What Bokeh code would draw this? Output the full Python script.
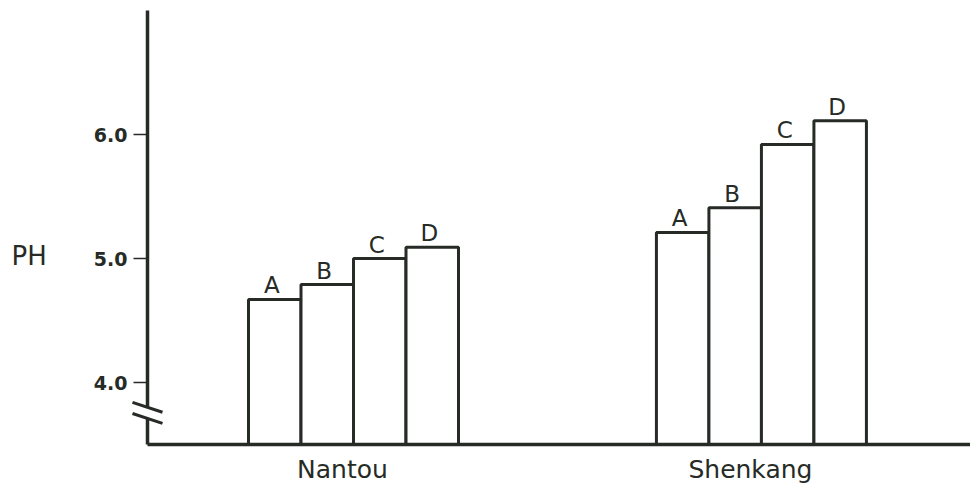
from bokeh.plotting import figure
from bokeh.models import Range1d, ColumnDataSource, FixedTicker, LinearAxis
from bokeh.core.properties import value
from bokeh.embed import file_html
from bokeh.resources import INLINE

# ---- data ----
sites = ["Nantou", "Shenkang"]
treatments = ["A", "B", "C", "D"]
ph_nantou = [4.67, 4.79, 5.00, 5.09]
ph_shenkang = [5.21, 5.41, 5.92, 6.11]
y_ticks = [4.0, 5.0, 6.0]
y_tick_labels = ["4.0", "5.0", "6.0"]
y_label = "PH"

# ---- layout constants (pixels / scale) ----
W, H = 970, 484
PX_X = 52.5            # pixels per bar slot
PX_Y = 124.0           # pixels per pH unit
GROUP_STEP = 7.77      # slots from one site group to the next
FIRST_BAR_PX = 274.25  # centre of the first bar
AXIS_PX = 147          # y axis position
BASE = 3.5             # axis baseline value (broken axis)
TOP = 7.0
BASE_PX = 444          # baseline from top of canvas

INK = "#262b26"
FONT = "DejaVu Sans"

x_start = -FIRST_BAR_PX / PX_X
x_end = x_start + W / PX_X
y_start = BASE - (H - BASE_PX) / PX_Y
y_end = BASE + BASE_PX / PX_Y
axis_x = x_start + AXIS_PX / PX_X

series = [ph_nantou, ph_shenkang]
bx, top, lab = [], [], []
for g, vals in enumerate(series):
    for i, v in enumerate(vals):
        bx.append(g * GROUP_STEP + i)
        top.append(v)
        lab.append(treatments[i])
src = ColumnDataSource(dict(x=bx, top=top, label=lab))
site_src = ColumnDataSource(dict(
    x=[g * GROUP_STEP + (len(treatments) - 1) / 2 for g in range(len(sites))],
    y=[BASE] * len(sites), text=sites))

p = figure(width=W, height=H, x_range=Range1d(x_start, x_end), y_range=Range1d(y_start, y_end),
           output_backend="svg", toolbar_location=None,
           x_axis_location=None, y_axis_location=None,
           min_border=0, min_border_left=0, min_border_right=0,
           min_border_top=0, min_border_bottom=0)
p.outline_line_color = None
p.grid.visible = False
p.background_fill_color = "white"
p.border_fill_color = "white"

p.vbar(x="x", top="top", bottom=BASE, width=1.0, source=src,
       fill_color="white", line_color=INK, line_width=3)
p.text(x="x", y="top", text="label", source=src, text_align="center",
       text_baseline="bottom", y_offset=-1, x_offset=-3,
       text_font=value(FONT), text_font_size="23px", text_color=INK)
p.text(x="x", y="y", text="text", source=site_src, text_align="center",
       text_baseline="top", y_offset=10, x_offset=-11,
       text_font=value(FONT), text_font_size="25px", text_color=INK)

# y axis (upper part, with ticks)
ya = LinearAxis(fixed_location=axis_x, bounds=(3.80, TOP),
                ticker=FixedTicker(ticks=y_ticks),
                major_label_overrides={t: l for t, l in zip(y_ticks, y_tick_labels)})
ya.axis_line_width = 3.5
ya.axis_line_color = INK
ya.major_tick_out = 14
ya.major_tick_in = 0
ya.major_tick_line_width = 1.5
ya.major_tick_line_color = INK
ya.minor_tick_line_color = None
ya.major_label_standoff = 6
ya.major_label_text_font = FONT
ya.major_label_text_font_style = "bold"
ya.major_label_text_font_size = "19px"
ya.major_label_text_color = INK
p.add_layout(ya, "left")

# y axis (lower part, below the break)
ya2 = LinearAxis(fixed_location=axis_x, bounds=(BASE, 3.71),
                 ticker=FixedTicker(ticks=[]))
ya2.axis_line_width = 3.5
ya2.axis_line_color = INK
ya2.major_tick_line_color = None
ya2.minor_tick_line_color = None
ya2.major_label_text_alpha = 0
p.add_layout(ya2, "left")

# x axis line (baseline)
xa = LinearAxis(fixed_location=BASE, bounds=(axis_x, x_end), ticker=FixedTicker(ticks=[]))
xa.axis_line_width = 3.5
xa.axis_line_color = INK
xa.major_tick_line_color = None
xa.minor_tick_line_color = None
xa.major_label_text_alpha = 0
p.add_layout(xa, "below")

# y axis title beside the 5.0 tick
p.text(x=[x_start + 11 / PX_X], y=[5.02], text=[y_label], text_align="left",
       text_baseline="middle", text_font=value(FONT), text_font_size="26px",
       text_color=INK)

# axis break marks
half = 15 / PX_X
p.segment(x0=[axis_x - half] * 2, x1=[axis_x + half] * 2,
          y0=[3.84, 3.75], y1=[3.76, 3.67], line_color=INK, line_width=3)

open("out.html", "w").write(file_html(p, INLINE))
